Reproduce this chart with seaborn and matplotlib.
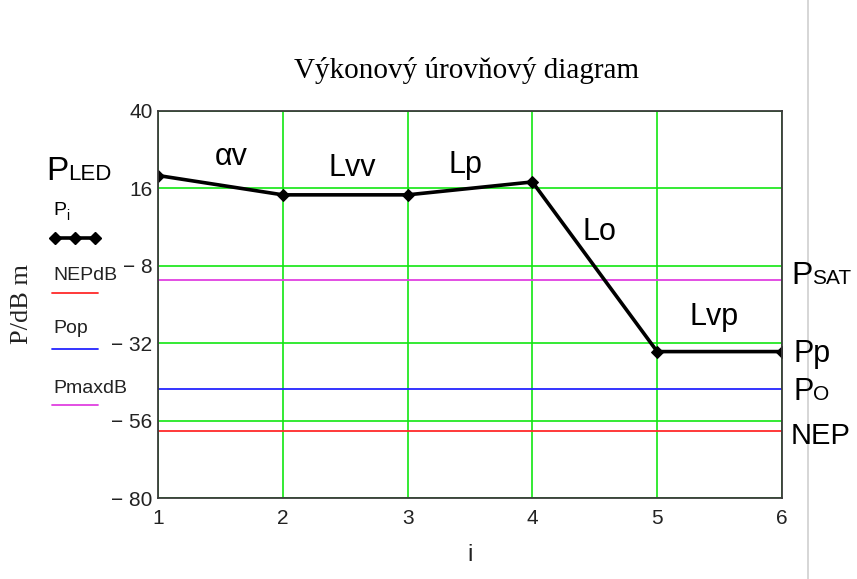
import matplotlib
matplotlib.use("Agg")
import matplotlib.pyplot as plt
from matplotlib.lines import Line2D
import pandas as pd
import seaborn as sns

# Power level at each interface i of the optical link (dBm)
stage_i = [1, 2, 3, 4, 5, 6]
power_dbm = [20.0, 14.0, 14.0, 18.0, -34.6, -34.6]

# Reference levels (dBm)
nep_db = -59.1
p_op = -46.2
pmax_db = -12.5

y_ticks = [-80, -56, -32, -8, 16, 40]
y_tick_labels = ["\u2212 80", "\u2212 56", "\u2212 32", "\u2212 8", "16", "40"]
x_ticks = [1, 2, 3, 4, 5, 6]
x_tick_labels = ["1", "2", "3", "4", "5", "6"]

legend_names = ["NEPdB", "Pop", "PmaxdB"]
segment_names = ["\u03b1v", "Lvv", "Lp", "Lo", "Lvp"]

sns.set_theme(style="white")
SANS = ["Liberation Sans", "DejaVu Sans"]
SERIF = ["Liberation Serif", "DejaVu Serif"]
plt.rcParams["font.family"] = SANS

W, H = 857, 579
fig = plt.figure(figsize=(W / 100, H / 100), dpi=100)
fig.patch.set_facecolor("white")
ax = fig.add_axes([158 / W, 1 - 498 / H, (782 - 158) / W, (498 - 111) / H])

GREEN = "#12e612"
RED = "#ff2a2a"
BLUE = "#2424ff"
MAGENTA = "#e040e0"

df = pd.DataFrame({"i": stage_i, "P": power_dbm})
sns.lineplot(data=df, x="i", y="P", ax=ax, color="black", linewidth=2.6,
             marker="D", markersize=6, markeredgecolor="black", zorder=5)

ax.axhline(pmax_db, color=MAGENTA, lw=1.3, zorder=3)
ax.axhline(p_op, color=BLUE, lw=1.3, zorder=3)
ax.axhline(nep_db, color=RED, lw=1.3, zorder=3)

ax.set_xlim(1, 6)
ax.set_ylim(-80, 40)
ax.set_xticks(x_ticks)
ax.set_xticklabels(x_tick_labels)
ax.set_yticks(y_ticks)
ax.set_yticklabels(y_tick_labels)
ax.set_axisbelow(True)
ax.grid(True, color=GREEN, lw=1.2)
ax.tick_params(axis="both", length=0, labelsize=15, labelcolor="#222222")
ax.tick_params(axis="x", pad=8)
ax.tick_params(axis="y", pad=4)
for lab in ax.get_xticklabels() + ax.get_yticklabels():
    lab.set_family(SANS)
ax.set_xlabel("")
ax.set_ylabel("")
for sp in ax.spines.values():
    sp.set_color("#3a3a3a")
    sp.set_linewidth(1.3)
    sp.set_zorder(6)

# Segment names along the link
seg_pos = [(1.585, 23.2), (2.555, 19.8), (3.46, 20.75), (4.54, 0.0), (5.456, -26.3)]
for name, (sx, sy) in zip(segment_names, seg_pos):
    ax.text(sx, sy, name, fontsize=22, family=SANS, ha="center", va="baseline",
            color="black", zorder=7)

fig.canvas.draw()
renderer = fig.canvas.get_renderer()


def fx(px):
    return px / W


def fy(py):
    return 1 - py / H


def mixed(x_px, y_px, parts, family=SANS):
    """Draw consecutive text pieces (text, size, baseline shift) on one baseline."""
    for text, size, shift in parts:
        t = fig.text(fx(x_px), fy(y_px + shift), text, fontsize=size, family=family,
                     ha="left", va="baseline", color="black")
        x_px += t.get_window_extent(renderer).width


# Title and axis titles
fig.text(fx(467), fy(78), "Výkonový úrovňový diagram", family=SERIF, fontsize=21,
         ha="center", va="baseline", color="black")
fig.text(fx(22), fy(304), "P/dB m", family=SERIF, fontsize=19, rotation=90,
         ha="center", va="center", color="#222222")
fig.text(fx(470), fy(555), "i", family=SANS, fontsize=17, ha="center", va="center",
         color="#222222")

# Source label on the left
mixed(46, 180, [("P", 24, 0), ("LED", 16, 0)])

# Legend block in the left margin
mixed(53, 215, [("P", 14, 0), ("i", 10, 5)])
fig.add_artist(Line2D([fx(53), fx(97)], [fy(238), fy(238)], color="black", lw=2.6,
                      transform=fig.transFigure))
fig.add_artist(Line2D([fx(55), fx(75), fx(95)], [fy(238)] * 3, color="black", lw=0,
                      marker="D", markersize=6, transform=fig.transFigure))
legend_rows = [(legend_names[0], 280, 293, RED),
               (legend_names[1], 333, 349, BLUE),
               (legend_names[2], 393, 405, MAGENTA)]
for name, ty, ly, col in legend_rows:
    fig.text(fx(53), fy(ty), name, family=SANS, fontsize=14, ha="left",
             va="baseline", color="#222222")
    fig.add_artist(Line2D([fx(52), fx(98)], [fy(ly), fy(ly)], color=col, lw=1.3,
                          transform=fig.transFigure))

# Level names on the right
mixed(791, 284, [("P", 23, 0), ("SAT", 15, 0)])
mixed(793, 362, [("Pp", 22, 0)])
mixed(793, 400, [("P", 22, 0), ("O", 15, 0)])
mixed(791, 444, [("NEP", 21, 0)])

# Page edge line
fig.add_artist(Line2D([fx(808), fx(808)], [0, 1], color="#cfcfcf", lw=1.2,
                      transform=fig.transFigure))

fig.savefig("out.png", dpi=100, facecolor="white")
